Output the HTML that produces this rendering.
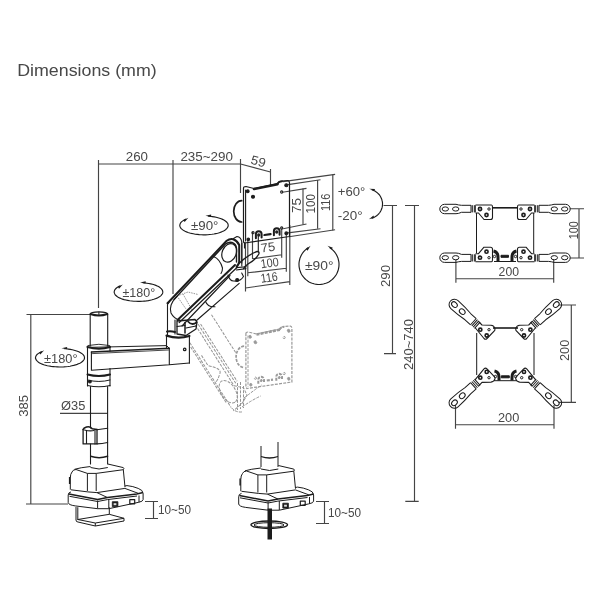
<!DOCTYPE html>
<html><head><meta charset="utf-8">
<style>
html,body{margin:0;padding:0;background:#fff;width:600px;height:600px;overflow:hidden}
svg{display:block;will-change:transform}
text{font-family:"Liberation Sans",sans-serif;fill:#484848}
</style></head><body>
<svg width="600" height="600" viewBox="0 0 600 600">
<rect width="600" height="600" fill="#fff"/>
<!-- TITLE -->
<text x="17.2" y="75.8" font-size="17" textLength="139.5" lengthAdjust="spacingAndGlyphs">Dimensions (mm)</text>

<!-- DIMENSION LINES -->
<g id="dims" stroke="#444" stroke-width="1.15" fill="none">
  <!-- top 260 / 235~290 / 59 -->
  <path d="M98.5 164H240.5"/>
  <path d="M98.5 160V308"/>
  <path d="M173 160V294"/>
  <path d="M240.5 159V193"/>
  <path d="M240.5 164L270.5 172"/>
  <path d="M270.5 169V185"/>
  <!-- 385 -->
  <path d="M26.5 314.5H90"/>
  <path d="M30.8 314.5V504"/>
  <path d="M26 504H68"/>
  <!-- dia 35 leader -->
  <path d="M60 413.3H107.6"/>
  <!-- 10~50 left -->
  <path d="M145 501.5H158M153.5 501.5V518.5M145 518.5H158"/>
  <!-- 10~50 right -->
  <path d="M316 501.5H329M324.5 501.5V523.5M316 523.5H329"/>
  <!-- 290 / 240~740 -->
  <path d="M383.5 205.5H397M392.5 205.5V353.6M384 353.6H396"/>
  <path d="M405 205.5H419M414.5 205.5V501.3M405.3 501.3H418.7"/>
  <!-- plate right dims 75 100 116 -->
  <path d="M283 181.6L335.1 174.4"/>
  <path d="M288 184.6L320.5 179.7"/>
  <path d="M282.5 192.2L306.5 188.4"/>
  <path d="M303 188.4V224.6"/>
  <path d="M317.6 180V228.7"/>
  <path d="M332.8 174.4V230.4"/>
  <path d="M289 236.8L335.1 229.8"/>
  <path d="M288 232.9L320.5 228.7"/>
  <path d="M283.2 228.7L306.5 224"/>
  <!-- plate bottom dims -->
  <path d="M252.5 232V259M281.7 228.5V257.7M252.5 258.8L281.7 254.8"/>
  <path d="M247.8 239.6V276.3M286.3 233V271.7M247.8 272.8L286.3 268.2"/>
  <path d="M245.5 242.5V291.5M289.8 225V285M245.5 288L289.8 281.6"/>
  <!-- brackets dims -->
  <path d="M570 208.7H584M579 208.7V258M570 258H584"/>
  <path d="M455.9 259.7V282.7M553.7 259.7V282.7M455.9 278.7H553.7"/>
  <path d="M559 305H576M571.3 305V402.3M559 402.3H576"/>
  <path d="M455.5 405V428.7M554 405V428.7M455.5 424.7H554"/>
</g>

<!-- TEXTS -->
<g font-size="12.5">
  <text x="125.8" y="160.8" textLength="22.2" lengthAdjust="spacingAndGlyphs">260</text>
  <text x="180.4" y="161" textLength="52.6" lengthAdjust="spacingAndGlyphs">235~290</text>
  <text transform="translate(250,163.5) rotate(15)" x="0" y="0" textLength="15" lengthAdjust="spacingAndGlyphs">59</text>
  <text x="337.8" y="196.2" textLength="27.5" lengthAdjust="spacingAndGlyphs">+60°</text>
  <text x="337.8" y="220" textLength="24.8" lengthAdjust="spacingAndGlyphs">-20°</text>
  <text transform="translate(300.7,213) rotate(-90)" textLength="15" lengthAdjust="spacingAndGlyphs">75</text>
  <text transform="translate(314.8,213.4) rotate(-90)" textLength="19.4" lengthAdjust="spacingAndGlyphs">100</text>
  <text transform="translate(329.5,211.1) rotate(-90)" textLength="17.5" lengthAdjust="spacingAndGlyphs">116</text>
  <text x="191" y="230.1" textLength="27.4" lengthAdjust="spacingAndGlyphs">±90°</text>
  <text transform="translate(261.3,252.4) rotate(-7.5)" textLength="14.5" lengthAdjust="spacingAndGlyphs">75</text>
  <text transform="translate(261.3,268.2) rotate(-7.5)" textLength="18" lengthAdjust="spacingAndGlyphs">100</text>
  <text transform="translate(261.3,282.8) rotate(-7.5)" textLength="17" lengthAdjust="spacingAndGlyphs">116</text>
  <text x="305" y="269.5" textLength="28.5" lengthAdjust="spacingAndGlyphs">±90°</text>
  <text x="122.5" y="296.6" textLength="32.7" lengthAdjust="spacingAndGlyphs">±180°</text>
  <text x="44" y="363" textLength="33.5" lengthAdjust="spacingAndGlyphs">±180°</text>
  <text transform="translate(390,287) rotate(-90)" textLength="22" lengthAdjust="spacingAndGlyphs">290</text>
  <text transform="translate(413,370) rotate(-90)" textLength="51" lengthAdjust="spacingAndGlyphs">240~740</text>
  <text transform="translate(27.9,416.7) rotate(-90)" textLength="21.7" lengthAdjust="spacingAndGlyphs">385</text>
  <text x="61" y="409.6" textLength="24.3" lengthAdjust="spacingAndGlyphs">Ø35</text>
  <text x="158" y="514" textLength="33" lengthAdjust="spacingAndGlyphs">10~50</text>
  <text x="328" y="516.5" textLength="33" lengthAdjust="spacingAndGlyphs">10~50</text>
  <text transform="translate(577.7,239.3) rotate(-90)" textLength="18" lengthAdjust="spacingAndGlyphs">100</text>
  <text x="498.6" y="276.4" textLength="20.4" lengthAdjust="spacingAndGlyphs">200</text>
  <text transform="translate(568.7,361) rotate(-90)" textLength="21.3" lengthAdjust="spacingAndGlyphs">200</text>
  <text x="498" y="422.3" textLength="21.3" lengthAdjust="spacingAndGlyphs">200</text>
</g>



<defs>
<g id="mplate" stroke="currentColor" fill="none">
  <!-- monitor plate -->
  <path d="M243.5 188Q243.5 186.5 246 186.5L254 188.5L278 183.5Q279 181 282 181L288 180.5Q289.5 181 289.5 183V236.5L244.5 243L243.5 242Z" stroke-width="1.2"/>
  <path d="M245.6 190V241"/>
  <path d="M254 189L277.5 184.2" stroke-width="2.6"/>
  <path d="M277 184Q279 181.3 282 181.3" stroke-width="2"/>
  <path d="M241.7 200.7A8 10.65 0 0 0 241.7 222" stroke-width="1.7"/>
  <circle cx="247.7" cy="191.3" r="1.4" fill="currentColor"/>
  <circle cx="253" cy="196.7" r="1.5" fill="currentColor"/>
  <circle cx="286.3" cy="185.3" r="1.5" fill="currentColor"/>
  <circle cx="281.7" cy="192" r="1.1"/>
  <circle cx="248.3" cy="239.3" r="1.3" fill="currentColor"/>
  <circle cx="253" cy="232.7" r="1.1"/>
  <circle cx="281.7" cy="228" r="1.1"/>
  <circle cx="286.3" cy="233.3" r="1.4" fill="currentColor"/>
  <path d="M255.9 238.3V234A2.85 2.85 0 0 1 261.6 234V237.6" stroke-width="2"/>
  <circle cx="258.75" cy="235" r="1.1" fill="currentColor"/>
  <path d="M273.9 235.3V231A2.85 2.85 0 0 1 279.6 231V234.8" stroke-width="2"/>
  <circle cx="276.75" cy="232" r="1.1" fill="currentColor"/>
  <path d="M264.4 235L270.6 234.2" stroke-width="2.2"/>
</g>
</defs>

<!-- GHOST -->
<g id="ghost" stroke="#959595" stroke-width="1" fill="none" stroke-dasharray="3 1.2" stroke-linecap="butt">
  <use href="#mplate" color="#9a9a9a" transform="translate(2.4,145.5)"/>
  <g transform="rotate(57.5)">
    <path d="M379 -9.3H425"/>
    <path d="M381 4.9H449M380 7.1H450M379 9.9H451"/>
    <path d="M391 24H468M395 25.6H462"/>
    <path d="M408 21H420Q430 11 433 15Q438 21 438 23"/>
    <ellipse cx="453" cy="18" rx="12.5" ry="7.2"/>
    <path d="M451 9.9L458 3L466 4L470 12L472 24"/>
  </g>
  <path d="M237.5 383V410M240.5 382V409M243.5 386V408"/>
  <path d="M242 407Q252 400 260.7 396M244 398Q253 391 261.6 385"/>
  <path d="M231.7 408Q236 413 243 411.8"/>
  <path d="M177 296L188 292L198 294.5M177 296L186 309M183 294L192 310" stroke-dasharray="1.5 1"/>
</g>
<!-- ROTATION ARROWS -->
<g id="rot" stroke="#1c1c1c" stroke-width="1.15" fill="none">
<path d="M208.2 216.1 L210.3 216.3 L212.3 216.6 L214.3 216.9 L216.1 217.3 L217.9 217.7 L219.6 218.2 L221.2 218.8 L222.6 219.4 L223.9 220.0 L225.0 220.7 L226.0 221.5 L226.8 222.2 L227.4 223.0 L227.9 223.8 L228.1 224.7 L228.2 225.5 L228.1 226.3 L227.8 227.1 L227.3 227.9 L226.6 228.7 L225.8 229.5 L224.8 230.2 L223.6 230.9 L222.3 231.5 L220.9 232.1 L219.3 232.7 L217.6 233.2 L215.8 233.6 L213.9 234.0 L211.9 234.3 L209.8 234.5 L207.8 234.7 L205.6 234.8 L203.5 234.8 L201.4 234.7 L199.3 234.6 L197.2 234.4 L195.2 234.2 L193.3 233.8 L191.4 233.4 L189.7 233.0 L188.0 232.5 L186.5 231.9 L185.1 231.3 L183.8 230.6 L182.7 229.9 L181.8 229.1 L181.0 228.4 L180.5 227.6 L180.1 226.8 L179.8 225.9 L179.8 225.1 L180.0 224.3 L180.3 223.5 L180.8 222.7 L181.5 221.9 L182.4 221.1 L183.5 220.4 L184.7 219.7 L186.0 219.1"/><path d="M205.5 215.8L211.2 214.6L210.9 216.9Z" fill="#1c1c1c" stroke="none"/><path d="M188.4 217.8L184.6 222.1L183.4 220.1Z" fill="#1c1c1c" stroke="none"/>
<path d="M142.7 282.7 L144.8 282.9 L146.8 283.2 L148.8 283.5 L150.7 283.9 L152.5 284.3 L154.2 284.8 L155.8 285.4 L157.2 286.0 L158.5 286.6 L159.6 287.3 L160.6 288.1 L161.4 288.8 L162.0 289.6 L162.5 290.4 L162.7 291.3 L162.8 292.1 L162.7 292.9 L162.4 293.7 L161.9 294.5 L161.2 295.3 L160.4 296.1 L159.4 296.8 L158.2 297.5 L156.9 298.1 L155.4 298.7 L153.8 299.3 L152.1 299.8 L150.3 300.2 L148.4 300.6 L146.4 300.9 L144.4 301.1 L142.3 301.3 L140.2 301.4 L138.0 301.4 L135.9 301.3 L133.8 301.2 L131.7 301.0 L129.7 300.8 L127.7 300.4 L125.9 300.0 L124.1 299.6 L122.4 299.1 L120.9 298.5 L119.5 297.9 L118.2 297.2 L117.1 296.5 L116.2 295.7 L115.4 295.0 L114.9 294.2 L114.5 293.4 L114.2 292.5 L114.2 291.7 L114.4 290.9 L114.7 290.1 L115.2 289.3 L115.9 288.5 L116.8 287.7 L117.9 287.0 L119.1 286.3 L120.4 285.7"/><path d="M140.0 282.4L145.7 281.2L145.4 283.5Z" fill="#1c1c1c" stroke="none"/><path d="M122.8 284.4L119.0 288.7L117.9 286.7Z" fill="#1c1c1c" stroke="none"/>
<path d="M64.3 348.6 L66.4 348.8 L68.4 349.1 L70.4 349.4 L72.3 349.8 L74.1 350.2 L75.8 350.7 L77.4 351.2 L78.8 351.8 L80.1 352.5 L81.3 353.2 L82.3 353.9 L83.1 354.6 L83.7 355.4 L84.2 356.2 L84.4 357.0 L84.5 357.8 L84.4 358.6 L84.1 359.5 L83.6 360.2 L82.9 361.0 L82.1 361.8 L81.1 362.5 L79.9 363.2 L78.5 363.8 L77.1 364.4 L75.5 364.9 L73.7 365.4 L71.9 365.8 L70.0 366.2 L68.0 366.5 L65.9 366.7 L63.8 366.9 L61.7 367.0 L59.5 367.0 L57.4 366.9 L55.2 366.8 L53.2 366.6 L51.1 366.4 L49.1 366.0 L47.3 365.7 L45.5 365.2 L43.8 364.7 L42.2 364.1 L40.8 363.5 L39.6 362.9 L38.5 362.2 L37.5 361.4 L36.8 360.7 L36.2 359.9 L35.8 359.1 L35.5 358.3 L35.5 357.5 L35.7 356.7 L36.0 355.9 L36.5 355.1 L37.3 354.3 L38.2 353.6 L39.2 352.9 L40.4 352.2 L41.8 351.6"/><path d="M61.5 348.3L67.2 347.1L66.9 349.3Z" fill="#1c1c1c" stroke="none"/><path d="M44.2 350.2L40.3 354.6L39.2 352.6Z" fill="#1c1c1c" stroke="none"/>
<path d="M329.6 247.5 L331.0 248.5 L332.3 249.6 L333.6 250.8 L334.7 252.1 L335.7 253.5 L336.6 255.0 L337.3 256.5 L338.0 258.1 L338.4 259.8 L338.8 261.5 L339.0 263.2 L339.0 264.9 L338.9 266.6 L338.6 268.3 L338.2 270.0 L337.7 271.6 L337.0 273.2 L336.2 274.7 L335.2 276.2 L334.2 277.5 L333.0 278.8 L331.7 279.9 L330.3 281.0 L328.9 281.9 L327.3 282.7 L325.8 283.3 L324.1 283.8 L322.4 284.2 L320.7 284.4 L319.0 284.5 L317.3 284.4 L315.6 284.2 L313.9 283.8 L312.2 283.3 L310.7 282.7 L309.1 281.9 L307.7 281.0 L306.3 279.9 L305.0 278.8 L303.8 277.5 L302.8 276.2 L301.8 274.7 L301.0 273.2 L300.3 271.6 L299.8 270.0 L299.4 268.3 L299.1 266.6 L299.0 264.9 L299.0 263.2 L299.2 261.5 L299.6 259.8 L300.0 258.1 L300.7 256.5 L301.4 255.0 L302.3 253.5 L303.3 252.1 L304.4 250.8 L305.7 249.6 L307.0 248.5 L308.4 247.5"/><path d="M327.5 245.8L332.9 247.8L331.5 249.6Z" fill="#1c1c1c" stroke="none"/><path d="M310.5 245.8L307.5 250.8L306.0 249.0Z" fill="#1c1c1c" stroke="none"/>
<path d="M371.8 189.7 L372.4 189.9 L373.0 190.2 L373.6 190.4 L374.2 190.7 L374.8 191.0 L375.3 191.3 L375.9 191.7 L376.4 192.1 L376.9 192.5 L377.4 192.9 L377.9 193.3 L378.3 193.8 L378.8 194.2 L379.2 194.7 L379.6 195.2 L380.0 195.8 L380.3 196.3 L380.6 196.8 L380.9 197.4 L381.2 198.0 L381.4 198.6 L381.7 199.2 L381.9 199.8 L382.0 200.4 L382.2 201.0 L382.3 201.6 L382.4 202.2 L382.5 202.9 L382.5 203.5 L382.5 204.1 L382.5 204.8 L382.4 205.4 L382.4 206.0 L382.3 206.6 L382.1 207.3 L382.0 207.9 L381.8 208.5 L381.6 209.1 L381.3 209.7 L381.1 210.3 L380.8 210.8 L380.5 211.4 L380.2 211.9 L379.8 212.5 L379.4 213.0 L379.0 213.5 L378.6 214.0 L378.1 214.4 L377.7 214.9 L377.2 215.3 L376.7 215.7 L376.2 216.1 L375.6 216.4 L375.1 216.8 L374.5 217.1 L374.0 217.4 L373.4 217.7 L372.8 217.9 L372.2 218.1 L371.5 218.3"/><path d="M369.2 188.7L375.0 188.9L374.2 191.1Z" fill="#1c1c1c" stroke="none"/><path d="M368.9 219.3L373.5 215.6L374.2 217.8Z" fill="#1c1c1c" stroke="none"/>

</g>

<!-- BASES -->
<defs>
<g id="basebody">
  <!-- pole bottom ring -->
  <path d="M90.5 467.5Q99 470.5 107.8 467.5"/>
  <!-- box top -->
  <path d="M74.5 469.3Q80 467.6 90.5 466.5M107.8 464L123.3 467.6"/>
  <path d="M72 472Q73 469.5 76 469.5L87.4 473.4H96.2L123.3 469.7Q124.5 468.5 123.3 467.6"/>
  <path d="M72 472Q70.3 474 70.3 478V489.7"/>
  <path d="M87.4 473.4V491M96.2 473.4V491M123.3 469.7L125 487.2"/>
  <path d="M71 489.8L87.8 491.9L96.9 492.6L124.9 488.4"/>
  <path d="M69.6 477V484" stroke-width="1.4"/>
  <!-- platform -->
  <path d="M71 491.9Q68.2 492.5 68.2 495V502.5Q68.5 505 75.2 505.9L97.6 508.7H108.8L138.2 502.4Q143.1 501.5 143.1 499.6V493.5Q143 490 138.2 488.4Q133 486.2 127 485.6L124.9 486"/>
  <path d="M68.9 494L97.6 499.6L107.4 497.5L136.8 494L143.1 492.6" stroke-width="1.5"/>
  <path d="M69.5 496.3L97.6 501.5L107.4 499.6L137 496"/>
  <path d="M96.9 492.6L107.4 497.5M124.9 488.4L138.2 493.3"/>
  <path d="M97.6 500.5V508.5M108.8 499.5V508.5M139 495.5V502.3"/>
  <path d="M112.3 501.7H117.9V506.6H112.3Z" fill="#1c1c1c" stroke-width="0.8"/>
  <path d="M113.6 503.2H116.4V505.2H113.6Z" fill="#ddd" stroke="none"/>
  <path d="M129.8 499.6H134.7V503.8H129.8Z" stroke-width="1.2"/>
</g>
</defs>
<g stroke="#1c1c1c" stroke-width="1" fill="none" stroke-linejoin="round">
  <use href="#basebody"/>
  <g transform="translate(170.5,1.5)"><use href="#basebody"/></g>
  <!-- clamp -->
  <path d="M76 507V520M77.8 507.2V520M109.3 507.3V514.3"/>
  <path d="M77.8 519.5L109.3 514.3L124 518.3L95.3 523L77.8 519.5Z"/>
  <path d="M76 520Q76 522 78 522L95.3 526L124 521V518.3"/>
  <path d="M95.3 523V526"/>
  <!-- grommet rod -->
  <rect x="267.5" y="508.5" width="4.5" height="31" fill="#1c1c1c" stroke="none"/>
  <ellipse cx="269.25" cy="524.75" rx="18.25" ry="3.75" stroke-width="1.4"/>
  <ellipse cx="269" cy="525" rx="15" ry="2.3"/>
  <!-- base2 pole -->
  <path d="M261 446V467M278 442V467"/>
  <path d="M261 456.5Q269.5 459.5 278 456.5" stroke-width="1.3"/>
</g>

<!-- BRACKETS -->
<defs>
<g id="bone">
  <path d="M-4.5 -3.4H-14Q-17 -3.6 -19.5 -4.4H-31A4.7 4.7 0 0 0 -31 5H-19.5Q-17 5 -14 3.6H-4.5"/>
  <ellipse cx="-30.2" cy="0.3" rx="3.2" ry="2.1"/>
  <ellipse cx="-19.8" cy="0.3" rx="3.2" ry="2.1"/>
  <path d="M-4.5 -3.5V3.7M-3.2 -3.5V3.7M-1.2 -3.5V3.7M-0.2 -3.5V3.7"/>
</g>
<g id="plate">
  <path d="M0 -3.7H16Q17 -3.7 17 -1.7V8.8Q17 10.8 15 10.8H8.5L3 4.3H0" stroke-width="1.1"/>
  <circle cx="4.5" cy="0.3" r="1.6" stroke-width="1.6"/>
  <circle cx="11" cy="6.3" r="1.6" stroke-width="1.6"/>
  <circle cx="13.5" cy="0.3" r="1.2"/>
</g>
<g id="hbr">
  <g transform="translate(475.5,208.7)"><use href="#bone"/><use href="#plate"/></g>
</g>
<g id="dbr">
  <g transform="translate(476,324) rotate(42)">
    <path d="M-3.5 -4.2L-11 -4.2Q-19 -5.4 -29 -5.4A5.4 5.4 0 0 0 -29 5.4Q-19 5.4 -11 4.2L-3.5 4.2"/>
    <ellipse cx="-29" cy="0" rx="3.2" ry="2.4"/>
    <ellipse cx="-18.5" cy="0" rx="3.2" ry="2.4"/>
    <path d="M-3.5 -4.2V4.2M-1.8 -4.2V4.2M0 -4.2V4.2M1.8 -4.2V4.2"/>
  </g>
  <path d="M478.5 321.3L482 325L491 325.3Q494 325.6 495 328.5L494.8 330.3L487 338.5Q485.5 340 484 338.5L475 327.5" stroke-width="1.1"/>
  <circle cx="480.3" cy="329.7" r="1.6" stroke-width="1.6"/>
  <circle cx="486.7" cy="335.5" r="1.6" stroke-width="1.6"/>
  <circle cx="489" cy="329.7" r="1.2"/>
</g>
</defs>
<g stroke="#1c1c1c" stroke-width="1" fill="none" stroke-linejoin="round">
  <use href="#hbr"/>
  <g transform="translate(1010,0) scale(-1,1)"><use href="#hbr"/></g>
  <g transform="translate(0,466.7) scale(1,-1)"><use href="#hbr"/></g>
  <g transform="translate(1010,466.7) scale(-1,-1)"><use href="#hbr"/></g>
  <path d="M492.5 207.8H517.5" stroke-width="1.6"/>
  <path d="M476.5 213V253M533.7 213V253"/>
  <path d="M494 261.5H516"/>
  <path d="M501 255.3H508.5V257.3H501Z" fill="#1c1c1c"/>
  <path d="M493.5 251Q498 252 498 257V261M516.5 251Q512 252 512 257V261" stroke-width="3"/>
  <circle cx="494.5" cy="256.5" r="1.2"/><circle cx="515.5" cy="256.5" r="1.2"/>

  <use href="#dbr"/>
  <g transform="translate(1010.7,0) scale(-1,1)"><use href="#dbr"/></g>
  <g transform="translate(0,707.4) scale(1,-1)"><use href="#dbr"/></g>
  <g transform="translate(1010.7,707.4) scale(-1,-1)"><use href="#dbr"/></g>
  <path d="M493 328H518" stroke-width="1.6"/>
  <path d="M476.7 333V375M534 333V375"/>
  <path d="M494 380.7H517"/>
  <path d="M501.3 375.8H509.3V377.8H501.3Z" fill="#1c1c1c"/>
  <path d="M494.5 371Q499 372 499 377V380.5M516.5 371Q512 372 512 377V380.5" stroke-width="3"/>
  <circle cx="495.5" cy="376.5" r="1.2"/><circle cx="515.5" cy="376.5" r="1.2"/>
</g>
<!-- MAIN DRAWING -->
<g id="main" stroke="#1c1c1c" stroke-width="1.1" fill="none" stroke-linejoin="round" stroke-linecap="round">
  <!-- left pole -->
  <path d="M90.2 314V346M107.7 314V346" />
  <path d="M90.5 314Q90.5 311.8 98.9 311.8Q107.3 311.8 107.3 314" stroke-width="1.3"/>
  <path d="M90.5 314Q98.9 317 107.3 314" stroke-width="2"/>
  <path d="M98.9 312.2V315.5" stroke-width="1"/>
  <!-- collar -->
  <path d="M87.5 347Q99 350.5 110 347" stroke-width="2.2"/>
  <path d="M88 345.5Q99 343 109.5 345.5" stroke-width="0.9"/>
  <path d="M87.5 348V386M110 348V351"/>
  <!-- horizontal arm -->
  <path d="M87.75 347.4L166.6 345.6L169.3 348.3" stroke-width="1"/>
  <path d="M91.4 352L169.3 348.3" stroke-width="1.5"/>
  <path d="M92.5 353.6L168.5 350" stroke-width="0.8"/>
  <path d="M91.4 352V370.3L169.3 364.8L189.4 363M169.3 348.3V364.8" stroke-width="1.1"/>
  <!-- lower collar + ring -->
  <path d="M110 368.5V386"/>
  <path d="M87.5 374.5Q99 377.5 110 374.5" stroke-width="2"/>
  <path d="M87.5 380Q99 383 110 380" stroke-width="1"/>
  <path d="M87.5 385.5Q99 388 110 385.5" stroke-width="1.1"/>
  <circle cx="89.9" cy="381.6" r="1.4" fill="#1c1c1c"/>
  <!-- pole lower -->
  <path d="M107.6 386.5V464"/>
  <!-- clip -->
  <rect x="83.1" y="428.3" width="14" height="15.6" fill="#fff" stroke="none"/>
  <path d="M90.5 386.5V428M90.5 444V464" />
  <path d="M83.1 429.5V443.9H97V429.5" stroke-width="1.3"/>
  <path d="M83.1 429.5Q83.5 428 86.5 427Q90 425.8 92.2 428.8L97 429.5" stroke-width="1.5"/>
  <path d="M84.5 430Q90 431.5 94 430.5" />
  <path d="M86.5 430.5V443.5M95 429.5V443.9" />
  <path d="M97 429.7Q102 428.8 107.6 428.25M97 443.9Q102 443.8 107.6 442.5"/>
  <path d="M90.7 456.3Q99 459 107.6 456.3" stroke-width="1.5"/>

  <!-- elbow -->
  <path d="M166.5 336V347.5M189.4 336V363.1"/>
  <path d="M166.5 335.6Q178 339.5 189.4 336" stroke-width="2.2"/>
  <circle cx="184.7" cy="349.4" r="1.2" stroke-width="1.3"/>

  <!-- shoulder block -->
  <path d="M167.5 335V304.5L169 302.5"/>
  <path d="M175 320V334"/>
  <path d="M167 331.5Q171 330.8 175 332" stroke-width="2"/>
  <path d="M177 321L195 319.5L197 322L196 329L186 335.5L177 334Z" stroke-width="1.3"/>
  <path d="M185 322.5V333" stroke-width="1.5"/>
  <path d="M188 321.5Q192 326 196.5 322.5" stroke-width="1.8"/>
  <path d="M177 326.5L185 325.5M186 328L196 326"/>

  <!-- upper arm -->
  <path d="M167.5 303.3L226.7 240.8Q230 238.2 233.3 239.2Q237.5 240.8 239.2 245V261.7Q238.5 265 236.7 266.7" stroke-width="2"/>
  <path d="M174 299.5L225.5 244Q229 241.5 232 242.5Q236 244 236.5 248V262" stroke-width="1.4"/>
  <path d="M233.5 238.5L237 236.5Q241 237 241.8 242V263" />
  <ellipse cx="229.2" cy="252.9" rx="7" ry="9.6" transform="rotate(22 229.2 252.9)" stroke-width="1.2"/>
  <path d="M213.5 256.5Q220 259 222.5 268Q222.5 271.5 221 273.5"/>
  <path d="M176.7 296.7Q168.5 305 171 313Q174 319 180 320"/>
  <path d="M177.5 320L235 265" stroke-width="2"/>
  <path d="M179.2 322.5L236.7 267.8" stroke-width="1.2"/>
  <path d="M182 326L230 275.5M241.7 273L243.5 276.5Q240 282 234 281Q230 281.5 228 275"/>
  
  <path d="M239.2 283.3L196.5 320.5M215 306.7Q208 307.5 205.5 301.5"/>
  
  <circle cx="237.2" cy="280" r="1.5" fill="#1c1c1c"/>

  <!-- tilt joint under plate -->
  <path d="M237.2 265.3Q246 256 256 251.8Q259.8 250.8 258.8 254Q256 259.5 248 264Q244.5 266.5 243.6 268.5" stroke-width="1.4"/>
  <path d="M236.3 267.6L246.3 266.7M236.3 270L246 268.6"/>
  <path d="M241.8 243V266M244.5 243V248M258.3 236V252"/>

  <use href="#mplate" color="#1c1c1c"/>
</g>

</svg>
</body></html>
